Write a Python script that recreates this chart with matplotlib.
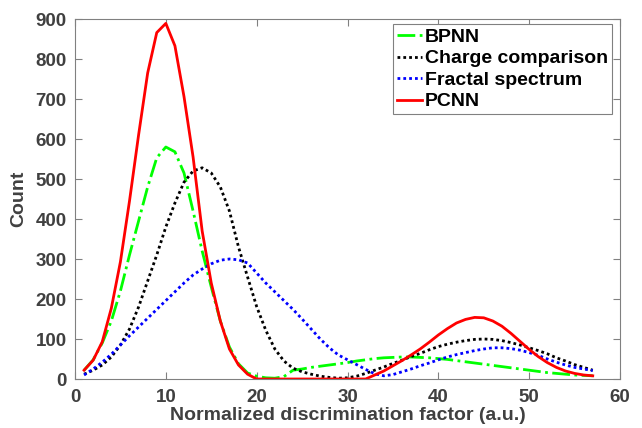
import matplotlib.pyplot as plt
import numpy as np

plt.rcParams['font.family'] = ['Liberation Sans', 'DejaVu Sans']

x = np.arange(1, 58)

bpnn = [22, 48, 90, 145, 220, 310, 395, 480, 553, 580,
        568, 515, 420, 320, 230, 145, 80, 38, 15, 7,
        3, 2, 6, 22, 25, 29, 32, 35, 38, 41,
        45, 48, 51, 53, 54, 55, 55, 54, 53, 51,
        49, 46, 43, 40, 37, 34, 31, 28, 25, 22,
        19, 16, 14, 12, 10, 9, 8]

charge = [12, 22, 35, 55, 85, 125, 180, 245, 310, 380,
          440, 492, 520, 528, 515, 480, 420, 330, 255, 181,
          122, 75, 45, 27, 18, 12, 7, 4, 2, 3,
          7, 14, 22, 30, 39, 47, 56, 64, 73, 81,
          87, 92, 96, 99, 100, 99, 96, 91, 85, 78,
          71, 63, 53, 45, 36, 29, 22]

fractal = [10, 25, 42, 62, 85, 108, 130, 152, 174, 196,
           218, 240, 260, 275, 288, 297, 300, 298, 290, 265,
           240, 218, 196, 174, 150, 125, 100, 78, 60, 48,
           36, 24, 13, 8, 11, 18, 25, 33, 40, 48,
           55, 61, 66, 71, 75, 78, 78, 76, 72, 66,
           59, 50, 42, 35, 29, 25, 21]

pcnn = [22, 47, 93, 177, 293, 445, 610, 765, 866, 889,
        833, 706, 555, 370, 240, 145, 75, 35, 12, 0,
        0, 0, 0, 0, 0, 0, 0, 0, 0, 0,
        0, 0, 10, 20, 33, 46, 60, 75, 92, 110,
        126, 140, 149, 154, 153, 145, 132, 114, 94, 74,
        56, 41, 29, 20, 14, 10, 8]

fig = plt.figure(figsize=(6.42, 4.28), dpi=100)
ax = fig.add_axes([75/642, 1-379/428, 545/642, 360/428])

dots = (0, (1, 1.1))
ax.plot(x, bpnn, color='#00ff00', linestyle='-.', linewidth=2, label='BPNN')
ax.plot(x, charge, color='black', linestyle=dots, linewidth=2, label='Charge comparison')
ax.plot(x, fractal, color='blue', linestyle=dots, linewidth=2, label='Fractal spectrum')
ax.plot(x, pcnn, color='red', linestyle='-', linewidth=2, label='PCNN')

ax.set_xlim(0, 60)
ax.set_ylim(0, 900)
ax.set_xticks(range(0, 61, 10))
ax.set_yticks(range(0, 901, 100))

tc = '#404040'
for s in ax.spines.values():
    s.set_color('#808080')
ax.tick_params(direction='in', top=True, right=True, colors='#808080',
               labelcolor=tc, labelsize=13.5, length=5)
ax.tick_params(axis='x', pad=7)
ax.tick_params(axis='y', pad=6)
for lab in ax.get_xticklabels() + ax.get_yticklabels():
    lab.set_fontweight('bold')

ax.set_xlabel('Normalized discrimination factor (a.u.)', fontsize=14,
              fontweight='bold', color=tc, labelpad=1)
ax.set_ylabel('Count', fontsize=14, fontweight='bold', color=tc, labelpad=6)

leg = ax.legend(loc='upper right', prop={'weight': 'bold', 'size': 14},
                handlelength=1.3, handletextpad=0.15, labelspacing=0.2,
                borderpad=0.2, fancybox=False, framealpha=1,
                bbox_to_anchor=(0.985, 0.985), borderaxespad=0)
leg.get_frame().set_edgecolor('#808080')
leg.get_frame().set_linewidth(0.8)

fig.savefig('out.png', dpi=100)
